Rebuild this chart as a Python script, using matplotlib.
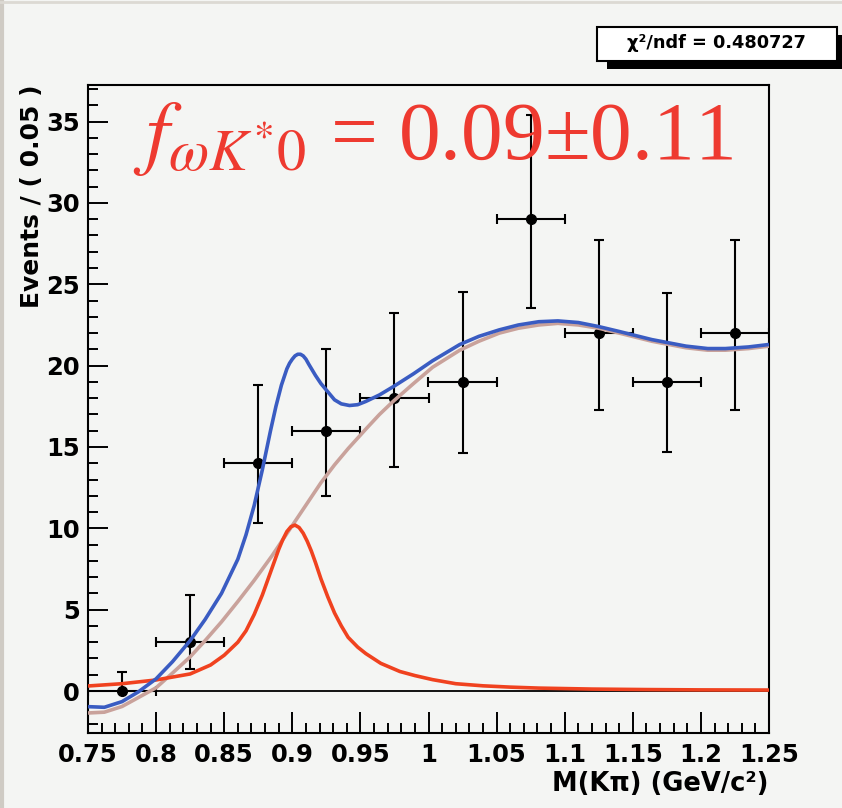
import matplotlib
matplotlib.use("Agg")
import matplotlib.pyplot as plt
from matplotlib.patches import Rectangle
from matplotlib.ticker import MultipleLocator, FormatStrFormatter, FuncFormatter

# binned data: M(K pi) bin centres, counts and asymmetric Poisson errors
mass_centers = [0.775, 0.825, 0.875, 0.925, 0.975, 1.025, 1.075, 1.125, 1.175, 1.225]
counts = [0, 3, 14, 16, 18, 19, 29, 22, 19, 22]
err_lo = [0, 1.65, 3.65, 4.0, 4.2, 4.35, 5.45, 4.7, 4.3, 4.7]
err_hi = [1.15, 2.9, 4.8, 5.0, 5.25, 5.5, 6.4, 5.7, 5.45, 5.7]
bin_half = 0.025

# total fit curve (blue)
total_x = [0.750, 0.762, 0.775, 0.787, 0.800, 0.812, 0.825, 0.836, 0.848, 0.860,
           0.866, 0.872, 0.878, 0.884, 0.888, 0.892, 0.896, 0.898, 0.900, 0.902,
           0.904, 0.906, 0.908, 0.910, 0.912, 0.917, 0.921, 0.926, 0.931, 0.936,
           0.942, 0.948, 0.954, 0.964, 0.974, 0.989, 1.003, 1.023, 1.037, 1.052,
           1.066, 1.081, 1.095, 1.110, 1.125, 1.140, 1.164, 1.189, 1.205, 1.218,
           1.235, 1.250]
total_y = [-0.96, -1.0, -0.65, -0.05, 0.75, 1.8, 3.1, 4.4, 6.0, 8.1,
           9.6, 11.4, 13.6, 16.0, 17.5, 18.8, 19.8, 20.15, 20.4, 20.6,
           20.7, 20.7, 20.6, 20.4, 20.1, 19.4, 18.9, 18.4, 17.9, 17.65,
           17.55, 17.6, 17.8, 18.2, 18.7, 19.5, 20.3, 21.3, 21.8, 22.2,
           22.5, 22.7, 22.75, 22.65, 22.4, 22.1, 21.6, 21.2, 21.05, 21.05,
           21.15, 21.3]

# background component (rosy brown)
bkg_x = [0.750, 0.762, 0.775, 0.787, 0.800, 0.812, 0.825, 0.836, 0.848, 0.860,
         0.872, 0.885, 0.897, 0.909, 0.921, 0.931, 0.941, 0.954, 0.964, 0.974,
         0.989, 1.003, 1.023, 1.037, 1.052, 1.066, 1.081, 1.095, 1.110, 1.125,
         1.140, 1.164, 1.189, 1.205, 1.218, 1.235, 1.250]
bkg_y = [-1.35, -1.3, -0.95, -0.4, 0.2, 1.1, 2.1, 3.1, 4.25, 5.5,
         6.8, 8.3, 9.8, 11.3, 12.8, 13.9, 14.9, 16.1, 17.0, 17.8,
         18.9, 19.9, 20.95, 21.5, 22.0, 22.3, 22.5, 22.6, 22.5, 22.3,
         22.0, 21.5, 21.1, 20.95, 20.95, 21.05, 21.2]

# omega K*0 signal component (red)
sig_x = [0.750, 0.775, 0.800, 0.825, 0.840, 0.850, 0.860, 0.866, 0.872, 0.878,
         0.884, 0.887, 0.890, 0.893, 0.896, 0.899, 0.902, 0.905, 0.908, 0.911,
         0.914, 0.917, 0.921, 0.926, 0.931, 0.936, 0.941, 0.948, 0.954, 0.965,
         0.979, 0.990, 1.003, 1.020, 1.040, 1.060, 1.081, 1.120, 1.160, 1.200,
         1.250]
sig_y = [0.31, 0.45, 0.68, 1.05, 1.6, 2.2, 3.0, 3.7, 4.7, 5.9,
         7.3, 8.0, 8.7, 9.3, 9.8, 10.1, 10.2, 10.05, 9.7, 9.2,
         8.6, 7.9, 6.9, 5.8, 4.8, 4.0, 3.3, 2.7, 2.3, 1.7,
         1.2, 0.95, 0.7, 0.45, 0.32, 0.24, 0.18, 0.12, 0.09, 0.07,
         0.06]

title_value = "0.09\u00b10.11"
chi2_text = "\u03c7\u00b2/ndf = 0.480727"

W, H = 842, 808
BG = "#f4f5f3"
BLUE = "#3a5cc2"
ROSE = "#c9a29b"
RED = "#f0421f"
TXT_RED = "#ee3a30"

plt.rcParams["mathtext.fontset"] = "stix"
bold = dict(family="DejaVu Sans", weight="bold")

fig = plt.figure(figsize=(W / 100, H / 100), dpi=100, facecolor=BG)


def px(x, y):
    return x / W, 1 - y / H


left, top, right, bottom = 88, 85, 769, 733
ax = fig.add_axes([left / W, 1 - bottom / H, (right - left) / W, (bottom - top) / H])
ax.set_facecolor(BG)

ax.axhline(0, color="black", lw=1.3, zorder=1)
ax.errorbar(mass_centers, counts, xerr=bin_half, yerr=[err_lo, err_hi],
            fmt="o", color="black", ms=7, elinewidth=1.5, capsize=3.4,
            capthick=1.5, zorder=2)
line_kw = dict(lw=2.6, solid_joinstyle="round", solid_capstyle="butt")
ax.plot(bkg_x, bkg_y, color=ROSE, zorder=3, **line_kw)
ax.plot(sig_x, sig_y, color=RED, zorder=4, **line_kw)
ax.plot(total_x, total_y, color=BLUE, zorder=5, **line_kw)

ax.set_xlim(0.75, 1.25)
ax.set_ylim(-2.58, 37.25)

ax.xaxis.set_major_locator(MultipleLocator(0.05))
ax.xaxis.set_minor_locator(MultipleLocator(0.01))
ax.yaxis.set_major_locator(MultipleLocator(5))
ax.yaxis.set_minor_locator(MultipleLocator(1))
ax.xaxis.set_major_formatter(FuncFormatter(lambda v, p: "%g" % round(v, 3)))
ax.yaxis.set_major_formatter(FormatStrFormatter("%d"))

ax.tick_params(axis="both", which="both", direction="in", top=False, right=False,
               width=1.4, colors="black")
ax.tick_params(axis="x", which="major", length=15, pad=7)
ax.tick_params(axis="x", which="minor", length=7.2)
ax.tick_params(axis="y", which="major", length=14.4, pad=6)
ax.tick_params(axis="y", which="minor", length=7.2)
for lab in ax.get_xticklabels() + ax.get_yticklabels():
    lab.set_fontfamily("DejaVu Sans")
    lab.set_fontweight("bold")
    lab.set_fontsize(17.5)
for sp in ax.spines.values():
    sp.set_linewidth(1.5)

ax.set_xlabel("M(K\u03c0) (GeV/c\u00b2)", fontsize=18.5, loc="right", **bold)
ax.xaxis.set_label_coords(1.0, (bottom - 771) / (bottom - top))
ax.set_ylabel("Events / ( 0.05 )", fontsize=18, loc="top", **bold)
ax.yaxis.set_label_coords((44 - left) / (right - left), 1.0)

# fit result label
fig.text(*px(133, 159), r"$f_{\omega K^{*}0}$ = " + title_value, color=TXT_RED,
         fontsize=60, family="Liberation Serif", ha="left", va="baseline")

# chi2 box with drop shadow
fig.patches.append(Rectangle(px(607, 69), 240 / W, 34 / H, transform=fig.transFigure,
                             facecolor="black", edgecolor="none", zorder=5))
fig.patches.append(Rectangle(px(597, 61), 240 / W, 34 / H, transform=fig.transFigure,
                             facecolor="white", edgecolor="black", lw=1.5, zorder=6))
fig.text(*px(716, 43), chi2_text, fontsize=12.8, ha="center", va="center",
         zorder=7, **bold)

# slide border on left / top
fig.lines.append(plt.Line2D([0.002, 0.002], [0, 1], transform=fig.transFigure,
                            color="#cfcbc4", lw=3))
fig.lines.append(plt.Line2D([0, 1], [0.998, 0.998], transform=fig.transFigure,
                            color="#dcd9d3", lw=2))

fig.savefig("out.png", dpi=100, facecolor=BG)
